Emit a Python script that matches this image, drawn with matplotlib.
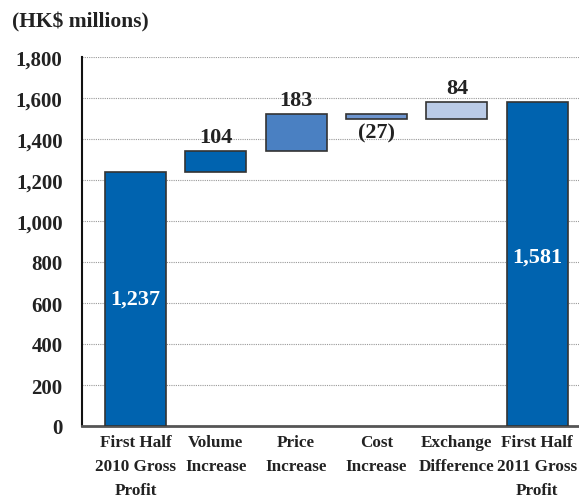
import matplotlib
matplotlib.use("Agg")
import matplotlib.pyplot as plt
import numpy as np

# Gross profit bridge, HK$ millions
categories = ["First Half\n2010 Gross\nProfit", "Volume\nIncrease", "Price\nIncrease",
              "Cost\nIncrease", "Exchange\nDifference", "First Half\n2011 Gross\nProfit"]
start_total = 1237
changes = [104, 183, -27, 84]
end_total = 1581
change_labels = ["104", "183", "(27)", "84"]
total_labels = ["1,237", "1,581"]
yticks = [0, 200, 400, 600, 800, 1000, 1200, 1400, 1600, 1800]
ytick_labels = ["0", "200", "400", "600", "800", "1,000", "1,200", "1,400", "1,600", "1,800"]

total_color = "#0063AF"
change_colors = ["#0063AF", "#4A80C2", "#6E95CF", "#BACBE7"]
edge = "#333333"

plt.rcParams["font.family"] = ["Liberation Serif", "DejaVu Serif"]
plt.rcParams["font.weight"] = "bold"

fig = plt.figure(figsize=(5.79, 5.02), dpi=100)
ax = fig.add_axes([82 / 579, 1 - 427 / 502, 497 / 579, 369 / 502])

x = np.arange(len(categories))
w = 0.76

# totals
ax.bar(x[0], start_total, width=w, color=total_color, edgecolor=edge, linewidth=1.2, zorder=3)
ax.bar(x[-1], end_total, width=w, color=total_color, edgecolor=edge, linewidth=1.2, zorder=3)

# floating changes
level = start_total
for i, (c, col, lab) in enumerate(zip(changes, change_colors, change_labels)):
    bottom = level if c >= 0 else level + c
    ax.bar(x[i + 1], abs(c), bottom=bottom, width=w, color=col, edgecolor=edge,
           linewidth=1.2, zorder=3)
    if c >= 0:
        ax.text(x[i + 1], level + c + 18, lab, ha="center", va="bottom",
                fontsize=16, fontweight="bold", color="#222222", zorder=4)
    else:
        ax.text(x[i + 1], level + c - 18, lab, ha="center", va="top",
                fontsize=16, fontweight="bold", color="#222222", zorder=4)
    level += c

ax.text(x[0], 620, total_labels[0], ha="center", va="center", fontsize=16,
        fontweight="bold", color="white", zorder=4)
ax.text(x[-1], 825, total_labels[1], ha="center", va="center", fontsize=16,
        fontweight="bold", color="white", zorder=4)

ax.set_xlim(-0.665, 5.52)
ax.set_ylim(0, 1800)
ax.set_yticks(yticks)
ax.set_yticklabels(ytick_labels, fontsize=15, fontweight="bold")
ax.set_xticks(x)
ax.set_xticklabels(categories, fontsize=12.3, fontweight="bold", linespacing=1.65)
ax.tick_params(axis="both", length=0, colors="#222222")
ax.tick_params(axis="y", pad=14)
ax.tick_params(axis="x", pad=6)

ax.yaxis.grid(True, linestyle=(0, (1, 1)), color="#999999", linewidth=0.8, zorder=0)
ax.set_axisbelow(True)

for s in ["top", "right"]:
    ax.spines[s].set_visible(False)
ax.spines["left"].set_color("#111111")
ax.spines["left"].set_linewidth(1.5)
ax.spines["bottom"].set_color("#555555")
ax.spines["bottom"].set_linewidth(2)

fig.text(12 / 579, 1 - 22 / 502, "(HK$ millions)", ha="left", va="center",
         fontsize=15.5, fontweight="bold", color="#222222")

fig.savefig("out.png", dpi=100)
